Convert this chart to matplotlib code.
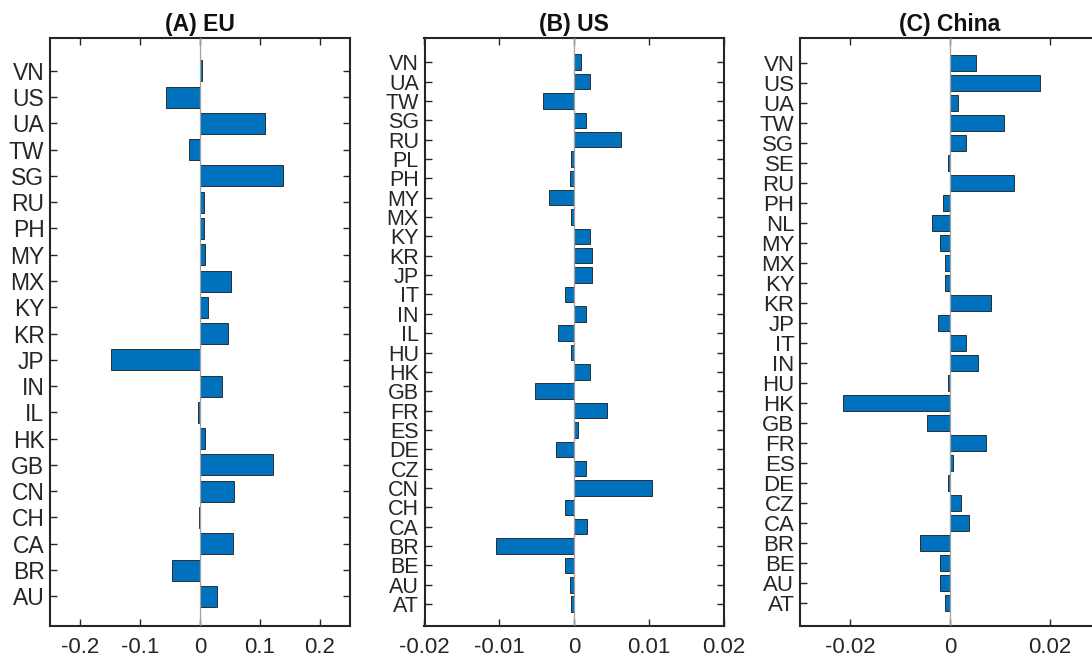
import matplotlib
matplotlib.use("Agg")
import matplotlib.pyplot as plt

plt.rcParams["font.family"] = ["Liberation Sans", "DejaVu Sans"]

# (A) EU
eu_codes = ["AU", "BR", "CA", "CH", "CN", "GB", "HK", "IL", "IN", "JP", "KR",
            "KY", "MX", "MY", "PH", "RU", "SG", "TW", "UA", "US", "VN"]
eu_values = [0.028, -0.046, 0.055, -0.002, 0.057, 0.121, 0.009, -0.004, 0.037,
             -0.148, 0.047, 0.014, 0.052, 0.008, 0.006, 0.007, 0.139, -0.019,
             0.108, -0.057, 0.003]

# (B) US
us_codes = ["AT", "AU", "BE", "BR", "CA", "CH", "CN", "CZ", "DE", "ES", "FR",
            "GB", "HK", "HU", "IL", "IN", "IT", "JP", "KR", "KY", "MX", "MY",
            "PH", "PL", "RU", "SG", "TW", "UA", "VN"]
us_values = [-0.0004, -0.0006, -0.0012, -0.0105, 0.0018, -0.0012, 0.0105,
             0.0016, -0.0024, 0.0006, 0.0044, -0.0052, 0.0021, -0.0004,
             -0.0021, 0.0016, -0.0012, 0.0024, 0.0024, 0.0021, -0.0004,
             -0.0033, -0.0006, -0.0004, 0.0063, 0.0016, -0.0042, 0.0021,
             0.0009]

# (C) China
cn_codes = ["AT", "AU", "BE", "BR", "CA", "CZ", "DE", "ES", "FR", "GB", "HK",
            "HU", "IN", "IT", "JP", "KR", "KY", "MX", "MY", "NL", "PH", "RU",
            "SE", "SG", "TW", "UA", "US", "VN"]
cn_values = [-0.0011, -0.0021, -0.0021, -0.0061, 0.0037, 0.0021, -0.0005,
             0.0005, 0.0071, -0.0046, -0.0215, -0.0005, 0.0056, 0.0031,
             -0.0025, 0.0082, -0.0011, -0.0011, -0.0021, -0.0036, -0.0015,
             0.0127, -0.0005, 0.0031, 0.0107, 0.0015, 0.0179, 0.0051]

titles = ["(A) EU", "(B) US", "(C) China"]
x_limits = [(-0.25, 0.25), (-0.02, 0.02), (-0.03, 0.03)]
x_ticks = [[-0.2, -0.1, 0, 0.1, 0.2],
           [-0.02, -0.01, 0, 0.01, 0.02],
           [-0.02, 0, 0.02]]
x_ticklabels = [["-0.2", "-0.1", "0", "0.1", "0.2"],
                ["-0.02", "-0.01", "0", "0.01", "0.02"],
                ["-0.02", "0", "0.02"]]
label_sizes = [16.5, 15.5, 16]

W, H = 1092, 661
fig = plt.figure(figsize=(W / 100, H / 100), dpi=100)

# axes boxes in pixels: left, width
boxes = [(50, 300), (424.5, 299), (800, 300)]
ax_top, ax_bottom = 38, 626

bar_color = "#0072BD"
frame_color = "#262626"

panels = [(eu_codes, eu_values), (us_codes, us_values), (cn_codes, cn_values)]

for i, ((codes, vals), (left, width)) in enumerate(zip(panels, boxes)):
    ax = fig.add_axes([left / W, (H - ax_bottom) / H, width / W,
                       (ax_bottom - ax_top) / H])
    pos = list(range(len(codes)))
    ax.barh(pos, vals, height=0.8, color=bar_color, edgecolor="#1a1a1a",
            linewidth=0.6, zorder=2)
    ax.axvline(0, color="#a0a0a0", linewidth=0.9, zorder=3)
    ax.set_xlim(*x_limits[i])
    ax.set_ylim(-1.13, len(codes) - 1 + 1.25)
    ax.set_yticks(pos)
    ax.set_yticklabels(codes)
    ax.set_xticks(x_ticks[i])
    ax.set_xticklabels(x_ticklabels[i])
    ax.tick_params(axis="both", direction="in", length=5, width=1.0,
                   color=frame_color, top=True, right=True,
                   labelcolor="#262626")
    ax.tick_params(axis="y", labelsize=label_sizes[i], pad=4)
    ax.tick_params(axis="x", labelsize=16, pad=8)
    for sp in ax.spines.values():
        sp.set_color(frame_color)
        sp.set_linewidth(1.5)
    ax.set_title(titles[i], fontsize=16.5, fontweight="bold", pad=5,
                 color="#111111")

fig.savefig("out.png", dpi=100)
